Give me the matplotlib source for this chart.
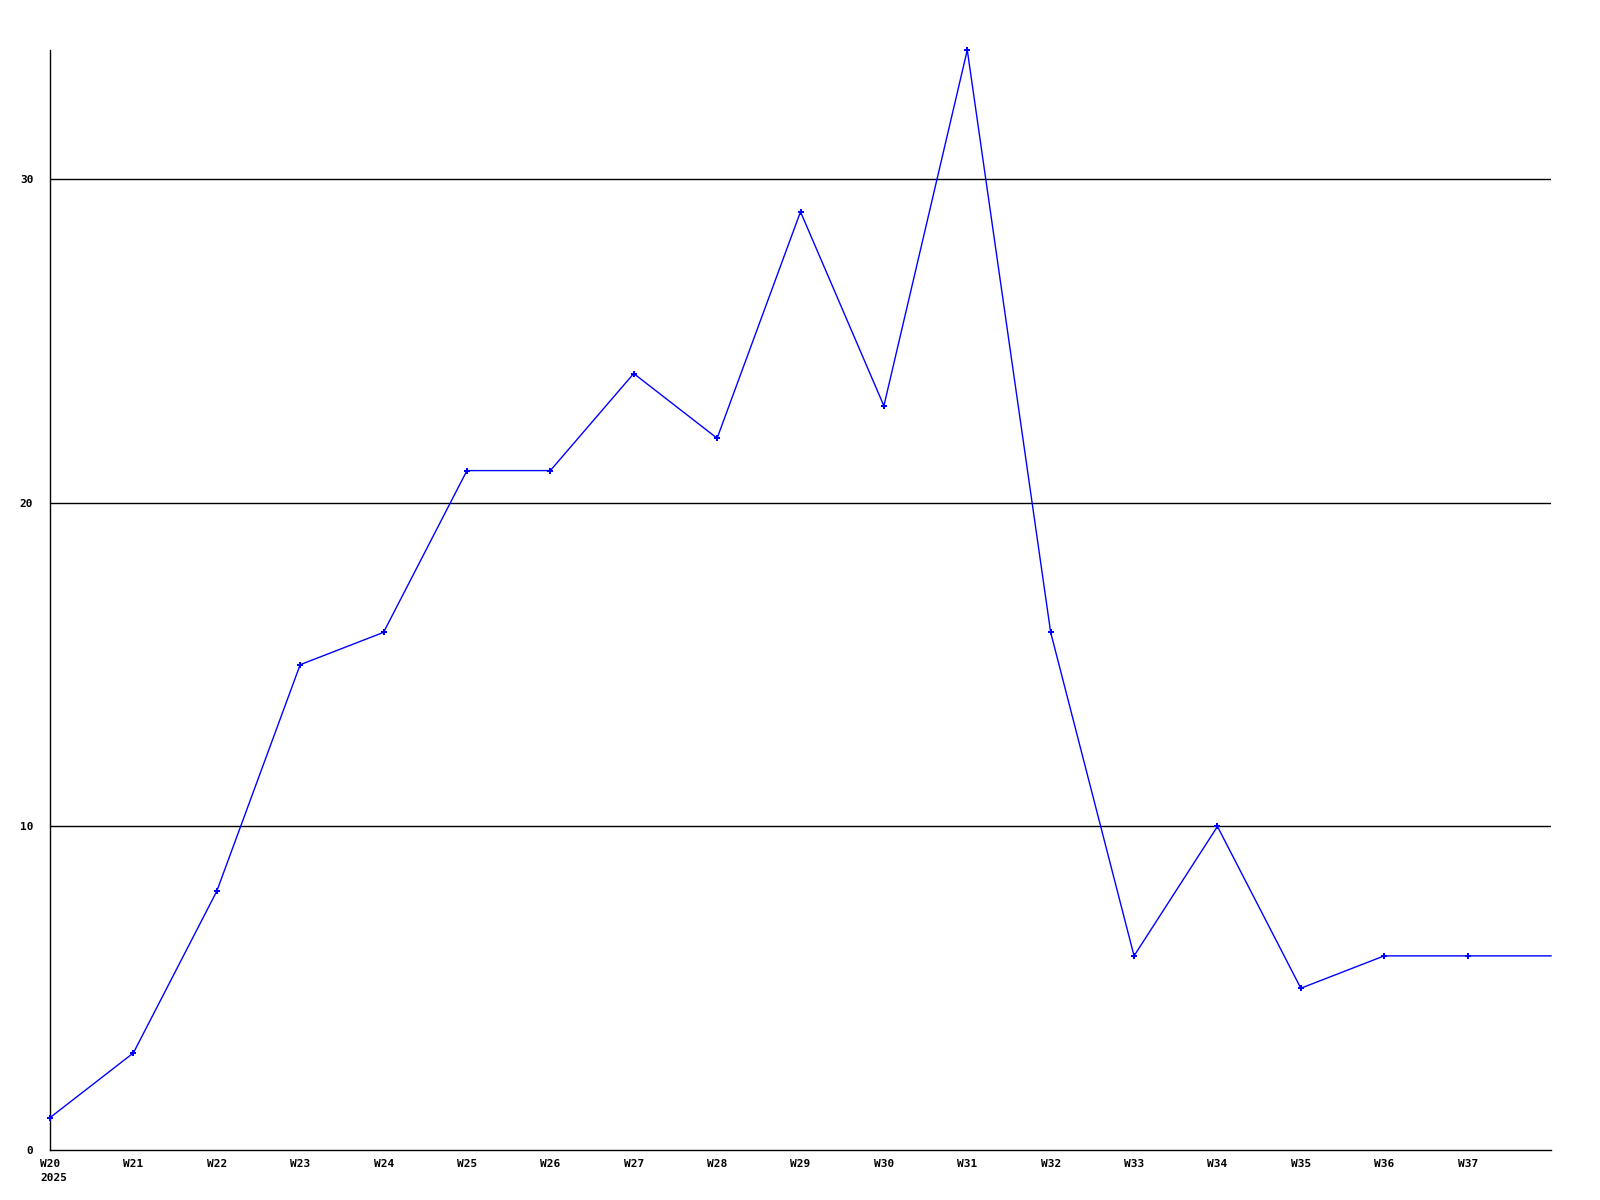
import matplotlib
matplotlib.use("Agg")
import matplotlib.pyplot as plt

# --- data ---
weeks = ["W20", "W21", "W22", "W23", "W24", "W25", "W26", "W27", "W28",
         "W29", "W30", "W31", "W32", "W33", "W34", "W35", "W36", "W37", "W38"]
values = [1, 3, 8, 15, 16, 21, 21, 24, 22, 29, 23, 34, 16, 6, 10, 5, 6, 6, 6]
tick_labels = ["W20\n2025"] + weeks[1:18]
y_ticks = [0, 10, 20, 30]

plt.rcParams['font.family'] = ['DejaVu Sans Mono']

fig = plt.figure(figsize=(16, 12), dpi=100)
ax = fig.add_axes([50 / 1600, 50 / 1200, 1501 / 1600, 1100 / 1200])

x = list(range(len(values)))
ax.plot(x, values, color="#0000ff", linewidth=1.0, marker="P",
        markersize=4, markeredgewidth=0, markevery=list(range(18)),
        clip_on=False, zorder=3)

# horizontal grid lines
for yv in y_ticks[1:]:
    ax.axhline(yv, color="black", linewidth=1.0, zorder=1)

ax.set_xlim(0, 18)
ax.set_ylim(0, 34)

for side in ["top", "right"]:
    ax.spines[side].set_visible(False)
for side in ["left", "bottom"]:
    ax.spines[side].set_color("black")
    ax.spines[side].set_linewidth(1.0)

# x labels: left-aligned, starting a little left of each week position
ax.set_xticks([])
for i, lbl in enumerate(tick_labels):
    ax.annotate(lbl, xy=(i, 0), xycoords=("data", "axes fraction"),
                xytext=(-10, -9), textcoords="offset pixels",
                ha="left", va="top", fontsize=8, fontweight="bold",
                linespacing=1.5, annotation_clip=False)

ax.set_yticks(y_ticks)
ax.set_yticklabels([str(v) for v in y_ticks], fontsize=8, fontweight="bold")
ax.tick_params(axis="both", length=0)
ax.tick_params(axis="y", pad=12)

fig.savefig("out.png", dpi=100, facecolor="white")
